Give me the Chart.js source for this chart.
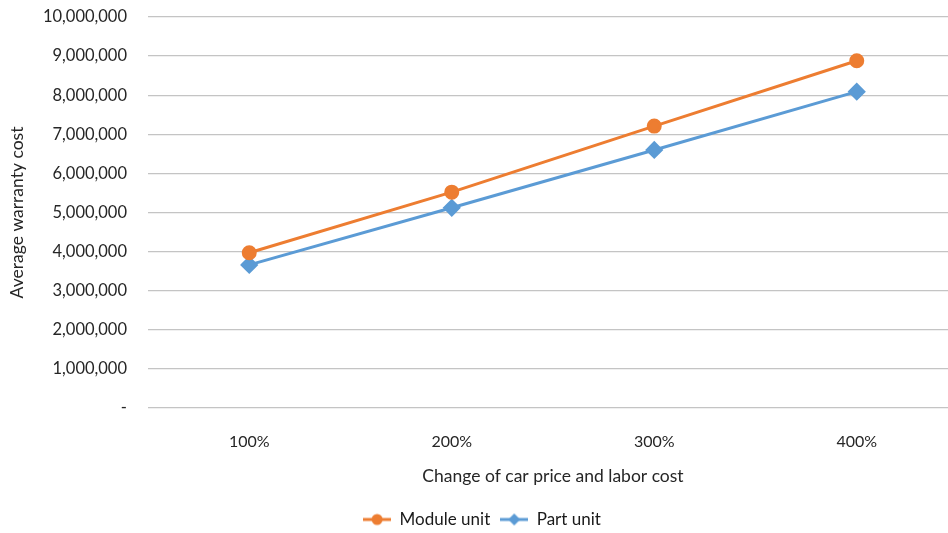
<!DOCTYPE html>
<html>
<head>
<meta charset="utf-8">
<script src="https://cdn.jsdelivr.net/npm/chart.js@4/dist/chart.umd.min.js"></script>
<style>
  html, body { margin: 0; padding: 0; background: #fff; overflow: hidden; }
  #wrap { width: 968px; height: 533px; position: relative; }
</style>
</head>
<body>
<div id="wrap"><canvas id="chart" width="968" height="533"></canvas></div>
<script>
// Average warranty cost as car price and labour cost change
const categories = ['100%', '200%', '300%', '400%'];
const moduleUnit = [3970000, 5520000, 7210000, 8880000];
const partUnit = [3660000, 5120000, 6600000, 8090000];
const yTicks = [0, 1000000, 2000000, 3000000, 4000000, 5000000, 6000000, 7000000, 8000000, 9000000, 10000000];

const ORANGE = '#ED7D31';
const BLUE = '#5B9BD5';
const FONT = 'Lato, "Open Sans", sans-serif';
const TEXT = '#262626';

// Legend swatch: short line with the series marker in the middle
function swatch(color, shape) {
  const c = document.createElement('canvas');
  c.width = 28; c.height = 14;
  const g = c.getContext('2d');
  g.strokeStyle = color; g.lineWidth = 3;
  g.beginPath(); g.moveTo(0, 7); g.lineTo(28, 7); g.stroke();
  g.fillStyle = color;
  g.beginPath();
  if (shape === 'circle') {
    g.arc(14, 7, 5.5, 0, Math.PI * 2);
  } else {
    g.moveTo(14, 1); g.lineTo(20, 7); g.lineTo(14, 13); g.lineTo(8, 7); g.closePath();
  }
  g.fill();
  return c;
}
const swatches = [swatch(ORANGE, 'circle'), swatch(BLUE, 'diamond')];

new Chart(document.getElementById('chart'), {
  type: 'line',
  data: {
    labels: categories,
    datasets: [
      {
        label: 'Module unit',
        data: moduleUnit,
        borderColor: ORANGE,
        backgroundColor: ORANGE,
        borderWidth: 3,
        pointStyle: 'circle',
        pointRadius: 6,
        pointHoverRadius: 6,
        tension: 0
      },
      {
        label: 'Part unit',
        data: partUnit,
        borderColor: BLUE,
        backgroundColor: BLUE,
        borderWidth: 3,
        pointStyle: 'rectRot',
        pointRadius: 7,
        pointHoverRadius: 7,
        tension: 0
      }
    ]
  },
  options: {
    responsive: false,
    animation: false,
    layout: { padding: { top: 17, right: 4, left: 0, bottom: -5 } },
    plugins: {
      tooltip: { enabled: false },
      legend: {
        position: 'bottom',
        labels: {
          usePointStyle: true,
          pointStyleWidth: 28,
          boxHeight: 14,
          padding: 10,
          color: '#1a1a1a',
          font: { family: FONT, size: 17 },
          generateLabels: (chart) => chart.data.datasets.map((ds, i) => ({
            text: ds.label,
            pointStyle: swatches[i],
            fillStyle: ds.borderColor,
            strokeStyle: ds.borderColor,
            lineWidth: 0,
            fontColor: '#1a1a1a',
            datasetIndex: i,
            hidden: false
          }))
        }
      }
    },
    scales: {
      x: {
        type: 'category',
        offset: true,
        grid: { display: false, drawTicks: false },
        border: { display: false },
        ticks: { color: TEXT, font: { family: FONT, size: 16 }, padding: 24 },
        title: {
          display: true,
          text: 'Change of car price and labor cost',
          color: TEXT,
          font: { family: FONT, size: 17.5 },
          padding: { top: 0, bottom: 14 }
        },
        afterFit: (s) => { s.height = 93; }
      },
      y: {
        min: 0,
        max: 10000000,
        afterBuildTicks: (s) => { s.ticks = yTicks.map(v => ({ value: v })); },
        grid: { color: '#c4c4c4', lineWidth: 1.2, drawTicks: false },
        border: { display: false },
        ticks: {
          color: TEXT,
          font: { family: FONT, size: 16.5 },
          padding: 21,
          callback: (v) => v === 0 ? '-' : Number(v).toLocaleString('en-US')
        },
        title: {
          display: true,
          text: 'Average warranty cost',
          color: TEXT,
          font: { family: FONT, size: 17.5 },
          padding: { top: 7, bottom: 0 }
        },
        afterFit: (s) => { s.width = 148; s.paddingTop = 0; s.paddingBottom = 0; }
      }
    }
  }
});
</script>
</body>
</html>
